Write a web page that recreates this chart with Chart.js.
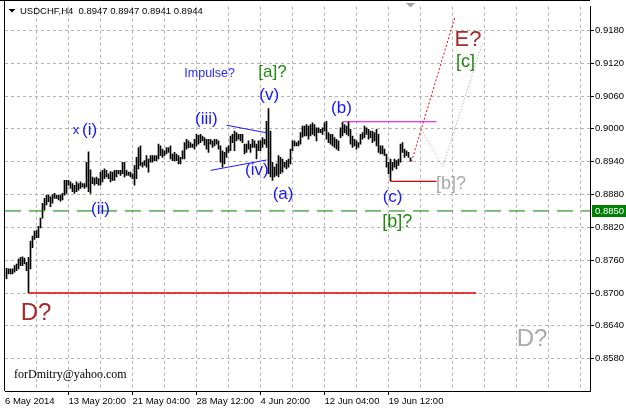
<!DOCTYPE html>
<html>
<head>
<meta charset="utf-8">
<script src="https://cdn.jsdelivr.net/npm/chart.js@4.4.1/dist/chart.umd.min.js"></script>
<style>
  body { margin: 0; background: #fff; }
  canvas { display: block; }
</style>
</head>
<body>
<canvas id="myChart" width="626" height="408"></canvas>
<script>
// USDCHF H4 bars (index 0 = 6 May 2014)
const highs = [
  0.8745, 0.8744, 0.8744, 0.8744, 0.8750, 0.8753, 0.8762, 0.8765, 0.8766, 0.8764,
  0.8756, 0.8765, 0.8795, 0.8804, 0.8813, 0.8814, 0.8822, 0.8837, 0.8864, 0.8873,
  0.8879, 0.8879, 0.8876, 0.8880, 0.8882, 0.8879, 0.8879, 0.8879, 0.8882, 0.8906,
  0.8906, 0.8906, 0.8903, 0.8900, 0.8897, 0.8903, 0.8900, 0.8903, 0.8900, 0.8900,
  0.8939, 0.8958, 0.8925, 0.8912, 0.8910, 0.8912, 0.8909, 0.8921, 0.8924, 0.8927,
  0.8924, 0.8918, 0.8922, 0.8921, 0.8924, 0.8924, 0.8924, 0.8924, 0.8939, 0.8939,
  0.8924, 0.8921, 0.8921, 0.8918, 0.8933, 0.8948, 0.8966, 0.8969, 0.8939, 0.8942,
  0.8951, 0.8945, 0.8951, 0.8951, 0.8951, 0.8951, 0.8972, 0.8969, 0.8963, 0.8960,
  0.8966, 0.8966, 0.8969, 0.8954, 0.8957, 0.8954, 0.8951, 0.8948, 0.8960, 0.8975,
  0.8981, 0.8978, 0.8975, 0.8972, 0.8981, 0.8990, 0.8988, 0.8990, 0.8987, 0.8984,
  0.8981, 0.8981, 0.8981, 0.8978, 0.8981, 0.8981, 0.8978, 0.8969, 0.8960, 0.8957,
  0.8966, 0.8969, 0.8987, 0.8990, 0.8996, 0.8993, 0.8990, 0.8990, 0.8990, 0.8972,
  0.8972, 0.8978, 0.8972, 0.8981, 0.8978, 0.8972, 0.8978, 0.8978, 0.8984, 0.8981,
  0.9014, 0.9037, 0.8996, 0.8939, 0.8930, 0.8936, 0.8951, 0.8948, 0.8945, 0.8939,
  0.8942, 0.8945, 0.8963, 0.8978, 0.8978, 0.8975, 0.8978, 0.8993, 0.9005, 0.9005,
  0.9008, 0.9005, 0.9008, 0.9011, 0.9008, 0.9002, 0.9002, 0.8999, 0.9002, 0.9011,
  0.9014, 0.8993, 0.8990, 0.8990, 0.8984, 0.8981, 0.8978, 0.9002, 0.9012, 0.9008,
  0.9005, 0.9014, 0.8999, 0.8987, 0.8981, 0.8978, 0.8975, 0.8990, 0.8993, 0.9005,
  0.9002, 0.8999, 0.8996, 0.8996, 0.8993, 0.8999, 0.8990, 0.8969, 0.8969, 0.8963,
  0.8954, 0.8939, 0.8945, 0.8939, 0.8945, 0.8942, 0.8945, 0.8972, 0.8975, 0.8963,
  0.8960, 0.8957, 0.8947
];
const lows = [
  0.8726, 0.8735, 0.8735, 0.8735, 0.8738, 0.8741, 0.8744, 0.8750, 0.8750, 0.8753,
  0.8741, 0.8700, 0.8744, 0.8783, 0.8798, 0.8801, 0.8801, 0.8819, 0.8837, 0.8852,
  0.8861, 0.8867, 0.8858, 0.8864, 0.8873, 0.8873, 0.8870, 0.8868, 0.8870, 0.8879,
  0.8882, 0.8897, 0.8891, 0.8885, 0.8882, 0.8885, 0.8888, 0.8891, 0.8894, 0.8891,
  0.8894, 0.8885, 0.8882, 0.8900, 0.8897, 0.8900, 0.8897, 0.8897, 0.8903, 0.8909,
  0.8912, 0.8909, 0.8903, 0.8906, 0.8906, 0.8912, 0.8918, 0.8915, 0.8918, 0.8912,
  0.8915, 0.8915, 0.8912, 0.8909, 0.8897, 0.8909, 0.8927, 0.8933, 0.8930, 0.8933,
  0.8930, 0.8921, 0.8939, 0.8939, 0.8942, 0.8942, 0.8945, 0.8951, 0.8948, 0.8951,
  0.8954, 0.8957, 0.8945, 0.8942, 0.8942, 0.8942, 0.8936, 0.8936, 0.8945, 0.8945,
  0.8963, 0.8965, 0.8966, 0.8966, 0.8963, 0.8969, 0.8972, 0.8975, 0.8978, 0.8970,
  0.8963, 0.8957, 0.8972, 0.8966, 0.8969, 0.8972, 0.8963, 0.8939, 0.8930, 0.8936,
  0.8948, 0.8957, 0.8960, 0.8975, 0.8960, 0.8978, 0.8981, 0.8978, 0.8975, 0.8954,
  0.8957, 0.8963, 0.8957, 0.8966, 0.8966, 0.8945, 0.8960, 0.8960, 0.8966, 0.8972,
  0.8966, 0.8918, 0.8912, 0.8906, 0.8912, 0.8915, 0.8912, 0.8918, 0.8921, 0.8930,
  0.8927, 0.8930, 0.8936, 0.8960, 0.8969, 0.8969, 0.8969, 0.8972, 0.8985, 0.8987,
  0.8987, 0.8981, 0.8987, 0.8990, 0.8987, 0.8978, 0.8993, 0.8993, 0.8990, 0.8996,
  0.8981, 0.8975, 0.8972, 0.8969, 0.8966, 0.8963, 0.8960, 0.8984, 0.8987, 0.8993,
  0.8990, 0.8987, 0.8972, 0.8966, 0.8969, 0.8963, 0.8966, 0.8972, 0.8981, 0.8984,
  0.8990, 0.8981, 0.8984, 0.8975, 0.8978, 0.8969, 0.8957, 0.8954, 0.8954, 0.8951,
  0.8930, 0.8918, 0.8905, 0.8924, 0.8930, 0.8927, 0.8933, 0.8939, 0.8957, 0.8948,
  0.8951, 0.8948, 0.8941
];

// price axis labels
const yTicks = [0.8580, 0.8640, 0.8700, 0.8760, 0.8820, 0.8880, 0.8940, 0.9000, 0.9060, 0.9120, 0.9180];
// time axis labels (bar index -> text)
const timeIdx = [-0.75, 31, 63, 95, 127, 159, 191];
const timeLabels = ["6 May 2014", "13 May 20:00", "21 May 04:00", "28 May 12:00", "4 Jun 20:00", "12 Jun 04:00", "19 Jun 12:00"];
// vertical grid every 16 bars
const gridIdx = [];
for (let g = 15; g <= 287; g += 16) gridIdx.push(g);

// wave lines: [bar index, price] pairs
const supportLevel = 0.8850;
const lineD = [[11, 0.8700], [234.85, 0.8700]];
const lineB = [[168, 0.9013], [215, 0.9013]];
const lineC = [[192, 0.8904], [215, 0.8904]];
const triUpper = [[110, 0.90067], [130, 0.89928]];
const triLower = [[102, 0.89241], [130, 0.89431]];
const pathE = [[202.5, 0.89399], [224.15, 0.92035]];
const pathAlt = [[207.35, 0.89988], [218.1, 0.89314], [238.1, 0.91584]];

// wave labels: text, bar index, price (baseline)
const notes = [
  { t: "x", i: 33.1, p: 0.89910, size: 13, color: "#1515ff" },
  { t: "(i)", i: 37.8, p: 0.89892, size: 17, color: "#1515ff" },
  { t: "(ii)", i: 42.3, p: 0.88442, size: 17, color: "#1515ff" },
  { t: "Impulse?", i: 88.9, p: 0.90939, size: 12.5, color: "#2a2aff" },
  { t: "[a]?", i: 125.9, p: 0.90939, size: 17, color: "#1f8a10" },
  { t: "(v)", i: 126.4, p: 0.90529, size: 17, color: "#1515ff" },
  { t: "(iii)", i: 94.3, p: 0.90096, size: 17, color: "#1515ff" },
  { t: "(iv)", i: 119.3, p: 0.89157, size: 17, color: "#1515ff" },
  { t: "(a)", i: 133.1, p: 0.88723, size: 17, color: "#1515ff" },
  { t: "(b)", i: 162.3, p: 0.90289, size: 17, color: "#1515ff" },
  { t: "(c)", i: 188.1, p: 0.88664, size: 17, color: "#1515ff" },
  { t: "[b]?", i: 187.9, p: 0.88212, size: 18, color: "#1f8a10" },
  { t: "[b]?", i: 214.8, p: 0.88893, size: 18, color: "#a9a9a9" },
  { t: "E?", i: 224.0, p: 0.91522, size: 22, color: "#a52a2a" },
  { t: "[c]", i: 224.8, p: 0.91132, size: 18, color: "#1f8a10" },
  { t: "D?", i: 7.1, p: 0.86509, size: 24, color: "#a52a2a" },
  { t: "D?", i: 255.1, p: 0.86032, size: 24, color: "#a9a9a9" }
];

const pts = (arr) => arr.map(([x, y]) => ({ x: x, y: y }));
const FONT = "'Liberation Sans', Arial, sans-serif";

function lineSet(data, color, dash, width) {
  return {
    type: "line",
    data: pts(data),
    borderColor: color,
    borderWidth: width || 1,
    borderDash: dash || [],
    pointRadius: 0,
    fill: false,
    tension: 0,
  };
}

const chartDecor = {
  id: "chartDecor",
  afterDatasetsDraw(chart) {
    const { ctx, chartArea, scales } = chart;
    const xs = scales.x, ys = scales.y;
    ctx.save();
    // frame left and top
    ctx.strokeStyle = "#000";
    ctx.lineWidth = 1;
    ctx.beginPath();
    ctx.moveTo(chartArea.left - 0.5, 0);
    ctx.lineTo(chartArea.left - 0.5, chartArea.bottom);
    ctx.moveTo(0, 0.5);
    ctx.lineTo(chartArea.right, 0.5);
    ctx.stroke();

    // wave labels
    ctx.textAlign = "left";
    ctx.textBaseline = "alphabetic";
    notes.forEach((n) => {
      ctx.font = n.size + "px " + FONT;
      ctx.fillStyle = n.color;
      ctx.fillText(n.t, xs.getPixelForValue(n.i), ys.getPixelForValue(n.p));
    });

    // header
    ctx.fillStyle = "#000";
    ctx.beginPath();
    ctx.moveTo(chartArea.left + 3.5, 9);
    ctx.lineTo(chartArea.left + 10.5, 9);
    ctx.lineTo(chartArea.left + 7, 12.5);
    ctx.closePath();
    ctx.fill();
    ctx.font = "9.5px " + FONT;
    ctx.fillText("USDCHF,H4  0.8947 0.8947 0.8941 0.8944", chartArea.left + 15, 14);

    // shift marker
    ctx.fillStyle = "#a0a0a0";
    ctx.beginPath();
    ctx.moveTo(406, 3);
    ctx.lineTo(415, 3);
    ctx.lineTo(410.5, 7.5);
    ctx.closePath();
    ctx.fill();

    // footer note
    ctx.fillStyle = "#000";
    ctx.font = "12px 'Liberation Serif', 'Times New Roman', serif";
    ctx.fillText("forDmitry@yahoo.com", chartArea.left + 9, chartArea.bottom - 13.5);

    // level price box
    const yl = Math.round(ys.getPixelForValue(supportLevel));
    ctx.fillStyle = "#008000";
    ctx.fillRect(chartArea.right + 2, yl - 6, 36, 12);
    ctx.fillStyle = "#fff";
    ctx.font = "9.5px " + FONT;
    ctx.textBaseline = "middle";
    ctx.fillText(supportLevel.toFixed(4), chartArea.right + 5, yl + 0.5);
    ctx.restore();
  },
};

const ctxBars = document.getElementById("myChart");
const myChart = new Chart(ctxBars, {
  type: "bar",
  data: {
    datasets: [
      lineSet([[-0.75, supportLevel], [291.75, supportLevel]], "#008000", [16, 8]),
      lineSet(lineD, "#e00000", [], 1.3),
      lineSet(lineB, "#e000e0", [], 1.2),
      lineSet(lineC, "#e00000", [], 1.2),
      lineSet(triUpper, "#1a1aff"),
      lineSet(triLower, "#1a1aff"),
      lineSet(pathE, "#ff0000", [2, 2]),
      lineSet(pathAlt, "#a0a0a0", [1, 2]),
      {
        type: "bar",
        data: highs.map((h, i) => ({ x: i, y: [lows[i], h] })),
        backgroundColor: "#000",
        borderWidth: 0,
        barThickness: 1,
      },
    ],
  },
  options: {
    responsive: false,
    animation: false,
    devicePixelRatio: 1,
    layout: { padding: { left: 5, top: 2, right: 0, bottom: 0 } },
    plugins: {
      legend: { display: false },
      tooltip: { enabled: false },
    },
    scales: {
      x: {
        type: "linear",
        min: -0.75,
        max: 291.75,
        offset: false,
        afterBuildTicks: (s) => {
          s.ticks = timeIdx.concat(gridIdx.filter((g) => !timeIdx.includes(g))).sort((a, b) => a - b).map((v) => ({ value: v }));
        },
        afterFit: (s) => { s.height = 17; },
        grid: {
          offset: false,
          color: (c) => (c.tick && c.tick.value < 0 ? "transparent" : "#b4b4b4"),
          tickColor: (c) => (c.tick && timeIdx.includes(c.tick.value) && c.tick.value > 0 ? "#000" : "transparent"),
          tickLength: 4,
        },
        border: { display: true, color: "#000", dash: [3, 3] },
        ticks: {
          autoSkip: false,
          maxRotation: 0,
          align: "start",
          padding: 1,
          color: "#000",
          font: { family: FONT, size: 9.5 },
          callback: (v) => {
            const k = timeIdx.indexOf(v);
            return k >= 0 ? timeLabels[k] : "";
          },
        },
      },
      y: {
        type: "linear",
        position: "right",
        min: 0.85209,
        max: 0.92233,
        afterBuildTicks: (s) => {
          s.ticks = yTicks.map((v) => ({ value: v }));
        },
        afterFit: (s) => { s.width = 36; },
        grid: { color: "#b4b4b4", tickColor: "#000", tickLength: 4 },
        border: { display: true, color: "#000", dash: [3, 3] },
        ticks: {
          padding: 1,
          color: "#000",
          font: { family: FONT, size: 9.5 },
          callback: (v) => v.toFixed(4),
        },
      },
    },
  },
  plugins: [chartDecor],
});
</script>
</body>
</html>
